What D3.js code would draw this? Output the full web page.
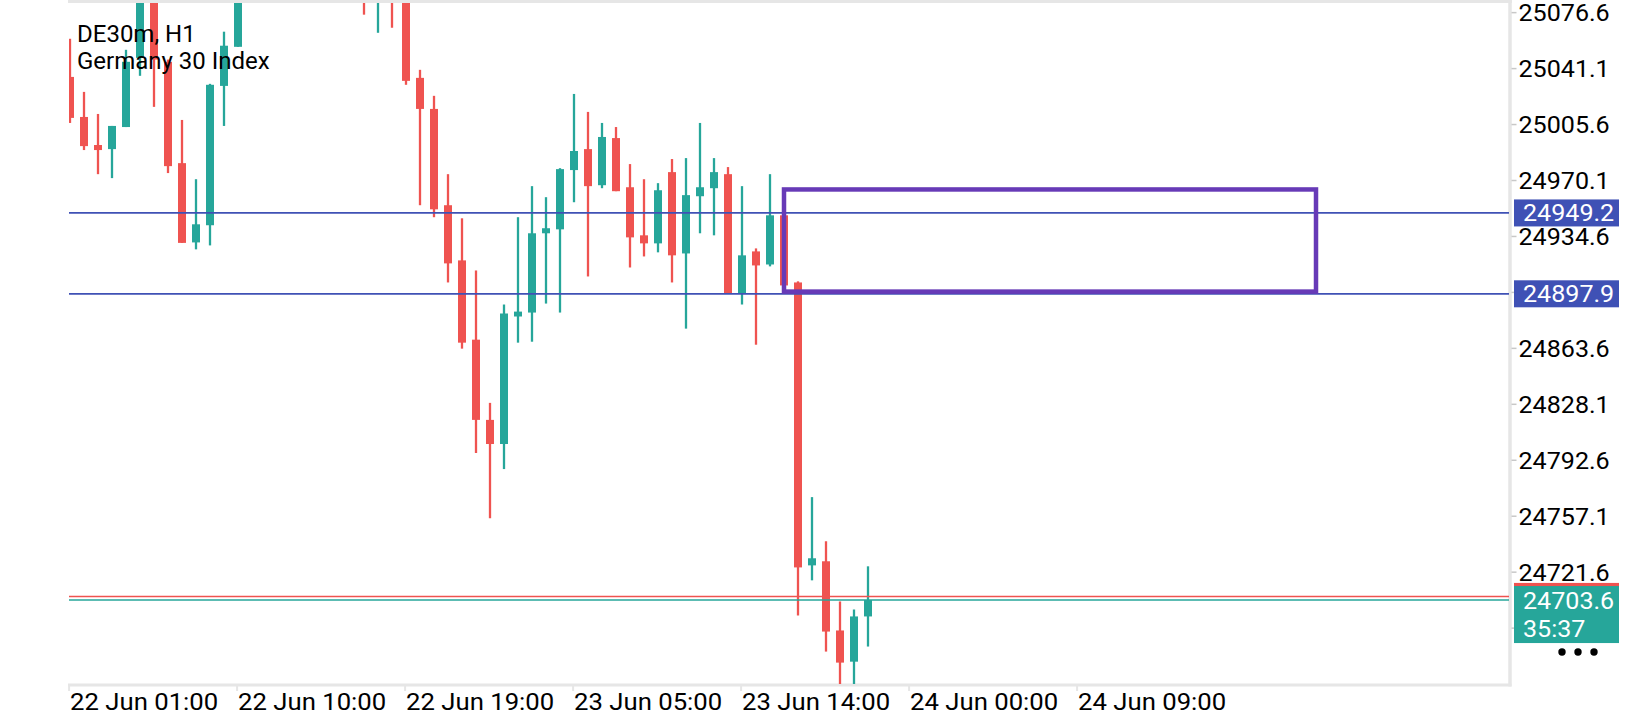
<!DOCTYPE html>
<html><head><meta charset="utf-8">
<script src="https://cdn.jsdelivr.net/npm/d3@7/dist/d3.min.js"></script>
<style>
html,body{margin:0;padding:0;background:#fff;overflow:hidden;}
svg{display:block;}
text{font-family:Roboto,"Noto Sans",sans-serif;}
</style></head><body>
<svg id="chart" width="1640" height="720"></svg>
<script>
// ---------- data ----------
const chartTitle = "DE30m, H1";
const chartSubtitle = "Germany 30 Index";

// bar index 0..57 (null = bar lies completely above the visible price range)
const opens  = [25035.5,25010.1,24992.3,24989.7,25003.7,25047.6,25090.0,25045.1,24980.8,24930.5,
                24941.4,25029.8,25054.6,null,null,null,null,null,null,null,
                null,25095.0,25088.0,25112.0,25092.0,25034.9,25015.2,24954.1,24919.1,24868.8,
                24817.9,24802.6,24883.5,24886.0,24936.3,24938.8,24976.4,24989.7,24966.8,24996.7,
                24965.5,24935.0,24929.9,24975.1,24923.5,24959.8,24964.9,24973.8,24898.1,24924.8,
                24916.5,24947.7,24905.1,24725.6,24728.2,24684.3,24664.5,24693.2];
const highs  = [25059.7,25026.0,25012.0,25004.4,25052.7,25095.0,25098.0,25046.5,25008.2,24970.6,
                25031.1,25064.2,25096.0,null,null,null,null,null,null,null,
                null,25105.0,25115.0,25118.0,25098.0,25040.0,25023.5,24973.8,24945.8,24912.7,
                24828.7,24891.1,24946.5,24966.2,24959.2,24977.6,25024.7,25013.3,25006.3,25003.7,
                24980.2,24970.6,24968.1,24983.4,24984.0,25006.3,24984.0,24978.3,24966.2,24926.7,
                24973.8,24949.0,24905.8,24768.9,24740.9,24702.7,24697.6,24725.0];
const lows   = [25006.3,24989.1,24973.8,24971.3,25003.7,25036.2,25016.5,24974.5,24930.2,24926.1,
                24928.6,25004.4,25054.6,null,null,null,null,null,null,null,
                null,25075.0,25063.5,25066.7,25030.5,24954.1,24946.5,24905.1,24863.1,24796.9,
                24755.5,24786.7,24866.9,24867.5,24891.7,24886.0,24956.0,24908.9,24964.9,24963.0,
                24914.6,24921.6,24924.2,24905.1,24875.8,24936.3,24935.0,24898.1,24891.1,24865.6,
                24915.3,24902.0,24693.8,24716.1,24670.9,24649.9,24649.9,24674.1];
const closes = [25009.5,24991.6,24989.1,25004.4,25045.1,25088.0,25046.5,24978.9,24930.2,24942.0,
                25030.5,25055.3,25090.0,null,null,null,null,null,null,null,
                null,25086.0,25110.0,25090.0,25033.0,25015.2,24951.5,24917.2,24866.9,24817.9,
                24802.6,24885.4,24886.6,24936.3,24939.5,24977.0,24988.5,24966.2,24997.4,24963.0,
                24933.7,24929.9,24963.6,24922.3,24960.5,24965.5,24975.1,24898.1,24922.3,24915.9,
                24947.7,24903.2,24724.3,24730.1,24683.6,24663.9,24693.2,24703.6];

const timeTickBars   = [0, 12, 24, 36, 48, 60, 72];
const timeTickLabels = ["22 Jun 01:00","22 Jun 10:00","22 Jun 19:00","23 Jun 05:00",
                        "23 Jun 14:00","24 Jun 00:00","24 Jun 09:00"];
const priceTicks = [25076.6,25041.1,25005.6,24970.1,24934.6,24899.1,24863.6,
                    24828.1,24792.6,24757.1,24721.6,24686.1];
// tick labels that sit under a price box are not shown
const hiddenTickLabels = [24899.1, 24686.1];
const levelLines = [24949.2, 24897.9];
const bidPrice = 24703.6;
const askPrice = 24705.9;
const barTimer = "35:37";
const zoneBars   = [51, 89];
const zonePrices = [24964.1, 24899.3];

// ---------- layout ----------
const plot = {left: 69, right: 1510, top: 3, bottom: 685};
const UP = "#26a69a", DOWN = "#ef5350", LEVEL = "#3f51b5", ZONE = "#673ab7", BORDER = "#e6e6e6";
const FONT = "Roboto, 'Noto Sans', sans-serif";

const svg = d3.select("#chart");

const x = d3.scaleLinear().domain([0, 57]).range([70, 868]);
const y = d3.scaleLinear().domain([24649.7, 25082.4]).range([plot.bottom, plot.top]);
const fmt = d3.format(".1f");

// widen axis glyphs slightly, as in the reference screenshot
function widen(sel, k) {
  sel.each(function() {
    const w = this.getComputedTextLength();
    if (w > 0) d3.select(this).attr("textLength", w * k).attr("lengthAdjust", "spacingAndGlyphs");
  });
}

const bars = d3.range(opens.length)
  .filter(i => opens[i] !== null)
  .map(i => ({i, o: opens[i], h: highs[i], l: lows[i], c: closes[i]}));

svg.append("defs").append("clipPath").attr("id", "plotClip")
  .append("rect").attr("x", plot.left).attr("y", plot.top)
  .attr("width", plot.right - plot.left - 1).attr("height", plot.bottom - plot.top - 1);

// borders
svg.append("line").attr("x1", plot.left - 1).attr("x2", plot.right + 2)
  .attr("y1", 1.5).attr("y2", 1.5).attr("stroke", BORDER).attr("stroke-width", 3);
svg.append("line").attr("x1", plot.right).attr("x2", plot.right)
  .attr("y1", 0).attr("y2", plot.bottom + 1.5).attr("stroke", BORDER).attr("stroke-width", 3.5);
svg.append("line").attr("x1", plot.left - 1).attr("x2", plot.right + 1.5)
  .attr("y1", plot.bottom).attr("y2", plot.bottom).attr("stroke", BORDER).attr("stroke-width", 3);

const g = svg.append("g").attr("clip-path", "url(#plotClip)");

// candles
const cg = g.append("g");
cg.selectAll("rect.wick").data(bars).join("rect").attr("class", "wick")
  .attr("x", d => x(d.i) - 1.15).attr("width", 2.3)
  .attr("y", d => y(d.h)).attr("height", d => Math.max(1, y(d.l) - y(d.h)))
  .attr("fill", d => d.c >= d.o ? UP : DOWN);
cg.selectAll("rect.body").data(bars).join("rect").attr("class", "body")
  .attr("x", d => x(d.i) - 4).attr("width", 8)
  .attr("y", d => y(Math.max(d.o, d.c)))
  .attr("height", d => Math.max(2, Math.abs(y(d.o) - y(d.c))))
  .attr("fill", d => d.c >= d.o ? UP : DOWN);

// level lines
g.selectAll("line.level").data(levelLines).join("line").attr("class", "level")
  .attr("x1", plot.left).attr("x2", plot.right)
  .attr("y1", d => y(d)).attr("y2", d => y(d))
  .attr("stroke", LEVEL).attr("stroke-width", 1.7);

// bid / ask lines
g.append("line").attr("x1", plot.left).attr("x2", plot.right)
  .attr("y1", y(askPrice)).attr("y2", y(askPrice)).attr("stroke", DOWN).attr("stroke-width", 1.5);
g.append("line").attr("x1", plot.left).attr("x2", plot.right)
  .attr("y1", y(bidPrice)).attr("y2", y(bidPrice)).attr("stroke", UP).attr("stroke-width", 1.5);

// zone rectangle
g.append("rect")
  .attr("x", x(zoneBars[0])).attr("width", x(zoneBars[1]) - x(zoneBars[0]))
  .attr("y", y(zonePrices[0])).attr("height", y(zonePrices[1]) - y(zonePrices[0]))
  .attr("fill", "none").attr("stroke", ZONE).attr("stroke-width", 4.5);

// title
svg.append("text").attr("x", 77).attr("y", 42).attr("font-size", 24).attr("fill", "#000").text(chartTitle);
svg.append("text").attr("x", 77).attr("y", 69).attr("font-size", 24).attr("fill", "#000").text(chartSubtitle);

// price axis
const yAxis = d3.axisRight(y).tickValues(priceTicks).tickSize(5).tickPadding(2)
  .tickFormat(d => hiddenTickLabels.includes(d) ? "" : fmt(d));
const ya = svg.append("g").attr("transform", `translate(${plot.right + 1.5},0)`).call(yAxis);
ya.select(".domain").remove();
ya.selectAll(".tick line").attr("stroke", "#c8c8c8").attr("stroke-width", 1.5);
ya.selectAll(".tick text").attr("font-size", 24).attr("fill", "#000")
  .attr("font-family", FONT).attr("dy", "0.36em").call(widen, 1.045);

// time axis
const xAxis = d3.axisBottom(x).tickValues(timeTickBars).tickSize(5)
  .tickFormat((d, k) => timeTickLabels[k]);
const xa = svg.append("g").attr("transform", `translate(-1.4,${plot.bottom + 1})`).call(xAxis);
xa.select(".domain").remove();
xa.selectAll(".tick line").attr("stroke", BORDER).attr("stroke-width", 2);
xa.selectAll(".tick text").attr("font-size", 24).attr("fill", "#000")
  .attr("font-family", FONT)
  .attr("text-anchor", "start").attr("x", 1).attr("y", 24).attr("dy", 0).call(widen, 1.07);

// price labels on the axis
const boxX = 1514, boxW = 105;
levelLines.forEach(p => {
  svg.append("rect").attr("x", boxX).attr("y", y(p) - 13.5).attr("width", boxW).attr("height", 27).attr("fill", LEVEL);
  svg.append("text").attr("x", boxX + 9).attr("y", y(p) + 8.5).attr("font-size", 24)
    .attr("fill", "#fff").text(fmt(p)).call(widen, 1.045);
});
svg.append("rect").attr("x", boxX).attr("y", y(askPrice) - 13.5).attr("width", boxW).attr("height", 27).attr("fill", DOWN);
svg.append("rect").attr("x", boxX).attr("y", y(bidPrice) - 14).attr("width", boxW).attr("height", 57).attr("fill", UP);
svg.append("text").attr("x", boxX + 9).attr("y", y(bidPrice) + 8.5).attr("font-size", 24)
  .attr("fill", "#fff").text(fmt(bidPrice)).call(widen, 1.045);
svg.append("text").attr("x", boxX + 9).attr("y", y(bidPrice) + 37).attr("font-size", 24)
  .attr("fill", "#fff").text(barTimer).call(widen, 1.045);

// menu dots
svg.selectAll("circle.dot").data([0, 1, 2]).join("circle").attr("class", "dot")
  .attr("cx", d => 1562 + d * 16).attr("cy", 652).attr("r", 3.7).attr("fill", "#000");
</script>
</body></html>
